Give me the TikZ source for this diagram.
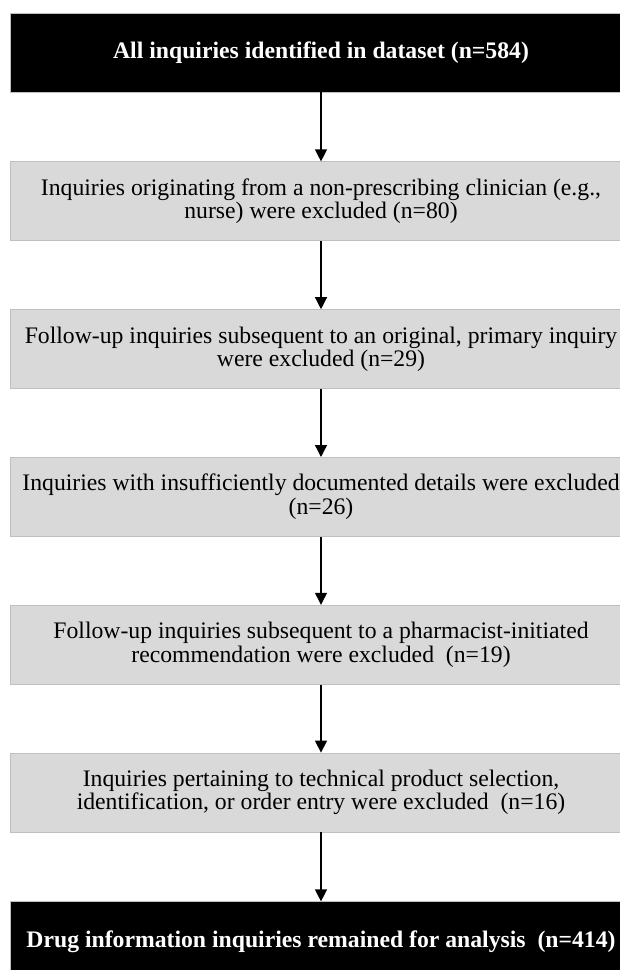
\documentclass[tikz,border=0pt]{standalone}
\usepackage{fontspec}
\setmainfont{Liberation Serif}
\usetikzlibrary{positioning,arrows.meta}
\begin{document}
\begin{tikzpicture}[x=1pt,y=1pt]
    \tikzset{box/.style={draw=black!25,line width=0.8pt,minimum width=622pt,
      minimum height=79pt,align=center,font=\fontsize{23.7}{23.5}\selectfont},
    dark/.style={fill=black,text=white,font=\fontsize{23.7}{23.5}\selectfont\bfseries},
    excl/.style={fill=black!15},
    flow/.style={-{Triangle[length=12pt,width=12pt]},line width=1.3pt}}
    \useasboundingbox (0,0) rectangle (620,-970);
    \node[box,dark] (all) at (321,-52.5) {All inquiries identified in dataset (n=584)};
    \node[box,excl] (nurse) [below=69pt of all] {Inquiries originating from a non-prescribing clinician (e.g.,\\
      nurse) were excluded (n=80)};%non-prescriber
    \node[box,excl] (follow) [below=68pt of nurse] {Follow-up inquiries subsequent to an original, primary inquiry\\
      were excluded (n=29)};
    \node[box,excl] (docs) [below=68pt of follow] {Inquiries with insufficiently documented details were excluded\\
      (n=26)};
    \node[box,excl] (pharm) [below=68pt of docs] {Follow-up inquiries subsequent to a pharmacist-initiated\\
      recommendation were excluded~ (n=19)};
    \node[box,excl] (tech) [below=68pt of pharm] {Inquiries pertaining to technical product selection,\\
      identification, or order entry were excluded~ (n=16)};
    \node[box,dark] (final) [below=69pt of tech] {Drug information inquiries remained for analysis~ (n=414)};

    \draw[flow] (all) -- (nurse);
    \draw[flow] (nurse) -- (follow);
    \draw[flow] (follow) -- (docs);
    \draw[flow] (docs) -- (pharm);
    \draw[flow] (pharm) -- (tech);
    \draw[flow] (tech) -- (final);
  \end{tikzpicture}
\end{document}
